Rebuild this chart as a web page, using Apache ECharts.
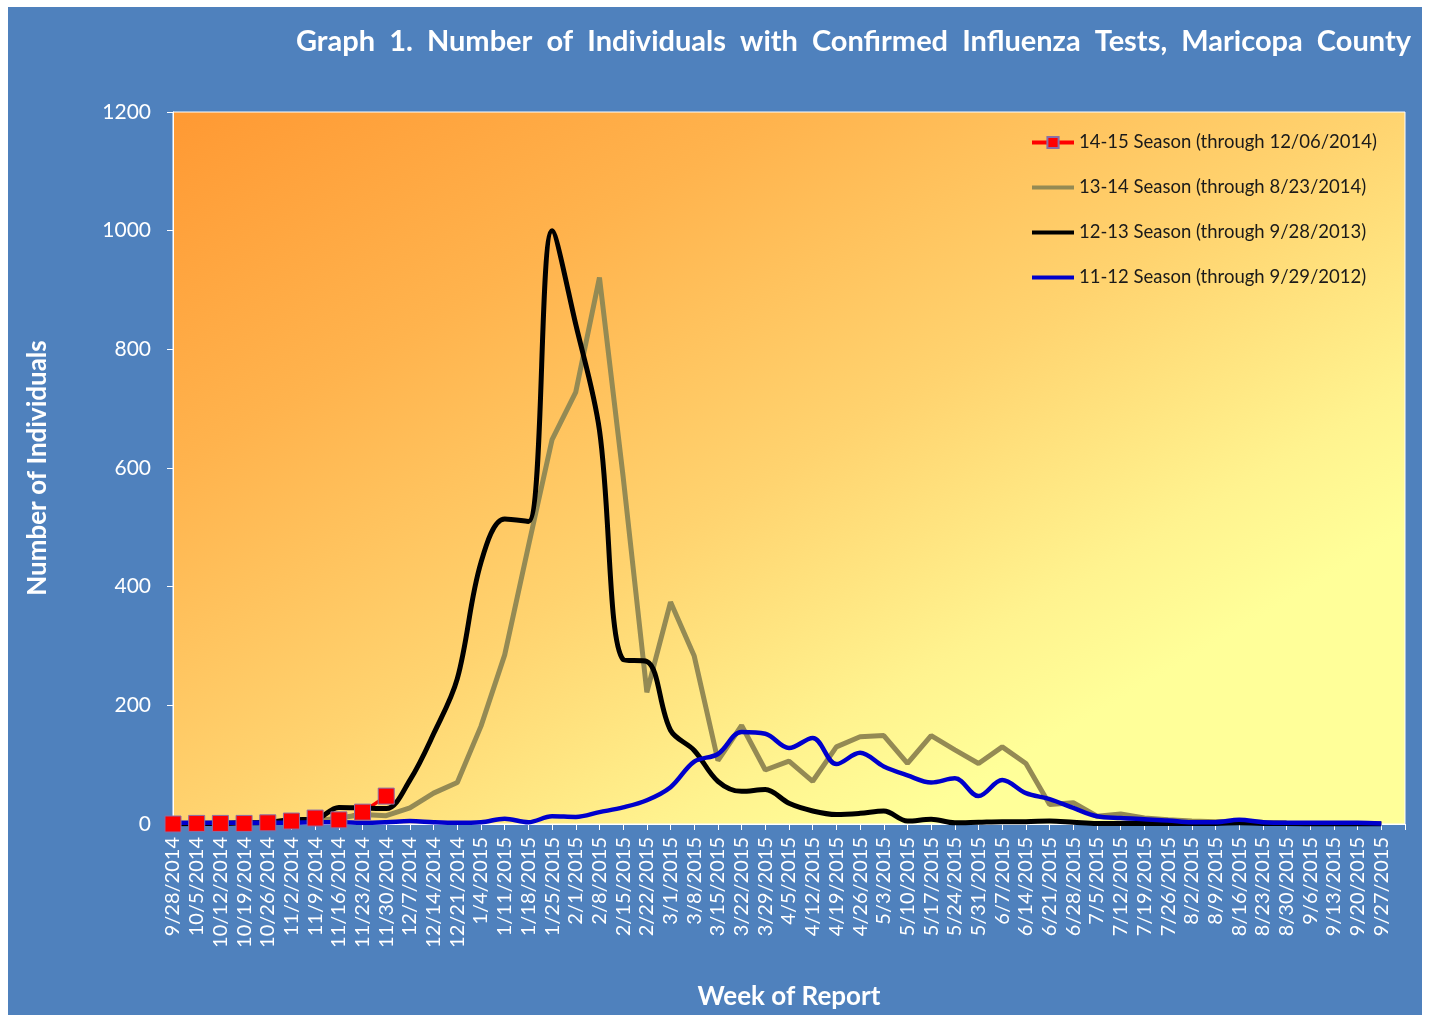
<!DOCTYPE html>
<html>
<head>
<meta charset="utf-8">
<title>Graph 1</title>
<script src="https://cdn.jsdelivr.net/npm/echarts@6/dist/echarts.min.js"></script>
<style>
  body { margin: 0; background: #fff; }
  #wrap { position: relative; width: 1429px; height: 1017px; background: #fff; }
  #chart { position: absolute; left: 8px; top: 7px; width: 1414px; height: 1008px; }
</style>
</head>
<body>
<div id="wrap"><div id="chart"></div></div>
<script>
// week labels (last slot is empty in the original)
const weeks = ['9/28/2014', '10/5/2014', '10/12/2014', '10/19/2014', '10/26/2014', '11/2/2014', '11/9/2014',
  '11/16/2014', '11/23/2014', '11/30/2014', '12/7/2014', '12/14/2014', '12/21/2014', '1/4/2015', '1/11/2015',
  '1/18/2015', '1/25/2015', '2/1/2015', '2/8/2015', '2/15/2015', '2/22/2015', '3/1/2015', '3/8/2015', '3/15/2015',
  '3/22/2015', '3/29/2015', '4/5/2015', '4/12/2015', '4/19/2015', '4/26/2015', '5/3/2015', '5/10/2015', '5/17/2015',
  '5/24/2015', '5/31/2015', '6/7/2015', '6/14/2015', '6/21/2015', '6/28/2015', '7/5/2015', '7/12/2015', '7/19/2015',
  '7/26/2015', '8/2/2015', '8/9/2015', '8/16/2015', '8/23/2015', '8/30/2015', '9/6/2015', '9/13/2015', '9/20/2015',
  '9/27/2015', '']

const yTicks = [0, 200, 400, 600, 800, 1000, 1200]

// 14-15 season
const season1415 = [0, 1, 1, 1, 2, 5, 10, 7, 20, 47]
// 13-14 season
const season1314 = [1, 1, 2, 2, 3, 4, 5, 10, 16, 14, 27, 52, 70, 165, 285, 468, 648, 728, 921, 585,
  222, 374, 283, 107, 166, 91, 106, 72, 130, 147, 149, 102, 149, 125, 102, 130, 102, 33, 36, 13,
  17, 10, 7, 5, 4, 5, 3, 2]
// 12-13 season
const season1213 = [0, 1, 1, 2, 3, 7, 8, 28, 27, 26, 74, 152, 245, 441, 514, 510, 1000, 842, 664, 277,
  274, 158, 124, 72, 55, 58, 35, 22, 16, 18, 22, 5, 8, 2, 3, 4, 4, 5, 3, 1,
  1, 1, 1, 1, 1, 2, 1, 1, 0, 0, 0, 0]
// 11-12 season
const season1112 = [2, 2, 2, 2, 2, 2, 3, 3, 2, 3, 5, 3, 2, 3, 9, 3, 13, 12, 20, 28,
  40, 62, 105, 118, 155, 152, 128, 145, 101, 120, 97, 82, 70, 77, 47, 74, 52, 42, 27, 13,
  10, 8, 6, 3, 3, 7, 3, 2, 2, 2, 2, 1]

const names = [
  '14-15 Season (through 12/06/2014)',
  '13-14 Season (through 8/23/2014)',
  '12-13 Season (through 9/28/2013)',
  '11-12 Season (through 9/29/2012)'
]

const font = 'Lato, "Open Sans", sans-serif'

let myChart = echarts.init(document.getElementById('chart'))

let option = {
  backgroundColor: '#4f81bd',
  animation: false,
  textStyle: {fontFamily: font},
  title: {
    text: 'Graph  1.  Number  of  Individuals  with  Confirmed  Influenza  Tests,  Maricopa  County',
    right: 6,
    top: 15,
    textStyle: {color: '#fff', fontSize: 29, fontWeight: 'bold', fontFamily: font}
  },
  legend: {
    orient: 'vertical',
    left: 1017,
    top: 121,
    itemWidth: 42,
    itemHeight: 14,
    itemGap: 26,
    data: [
      {name: names[0], lineStyle: {width: 4}},
      {name: names[1], itemStyle: {opacity: 0}, lineStyle: {width: 4}},
      {name: names[2], itemStyle: {opacity: 0}, lineStyle: {width: 4}},
      {name: names[3], itemStyle: {opacity: 0}, lineStyle: {width: 4}}
    ],
    textStyle: {color: '#1a1a1a', fontSize: 18.5, fontFamily: font}
  },
  grid: {
    left: 165,
    top: 105,
    right: 17,
    bottom: 184,
    show: true,
    borderColor: '#fff',
    borderWidth: 1,
    // diagonal fill, isolines run parallel to the anti-diagonal like the original
    backgroundColor: {
      type: 'linear', x: 0, y: 0, x2: 0.508, y2: 1.492,
      colorStops: [
        {offset: 0, color: '#ff9933'},
        {offset: 0.25, color: '#ffb34d'},
        {offset: 0.5, color: '#ffd36f'},
        {offset: 0.7, color: '#fff38f'},
        {offset: 0.8, color: '#ffff99'},
        {offset: 1, color: '#ffff99'}
      ]
    }
  },
  xAxis: {
    type: 'category',
    data: weeks,
    boundaryGap: false,
    name: 'Week of Report',
    nameLocation: 'middle',
    nameGap: 160,
    nameTextStyle: {color: '#fff', fontSize: 26, fontWeight: 'bold', fontFamily: font},
    axisLine: {lineStyle: {color: '#fff', width: 1}},
    axisTick: {show: true, interval: 0, length: 6, lineStyle: {color: '#fff'}},
    axisLabel: {interval: 0, rotate: 90, color: '#fff', fontSize: 20, margin: 13, fontFamily: font},
    splitLine: {show: false}
  },
  yAxis: {
    type: 'value',
    min: yTicks[0],
    max: yTicks[yTicks.length - 1],
    interval: 200,
    name: 'Number of Individuals',
    nameLocation: 'middle',
    nameGap: 122,
    nameTextStyle: {color: '#fff', fontSize: 26, fontWeight: 'bold', fontFamily: font},
    axisLine: {show: true, lineStyle: {color: '#fff', width: 1}},
    axisTick: {show: true, length: 6, lineStyle: {color: '#fff'}},
    axisLabel: {
      color: '#fff', fontSize: 21, margin: 22, fontFamily: font,
      formatter: v => String(v)
    },
    splitLine: {show: false}
  },
  series: [
    {
      name: names[0],
      type: 'line',
      data: season1415,
      symbol: 'rect',
      symbolSize: 16,
      lineStyle: {color: '#ff0000', width: 3.5},
      itemStyle: {color: '#ff0000', borderColor: '#8a6fa6', borderWidth: 1}
    },
    {
      name: names[1],
      type: 'line',
      data: season1314,
      symbol: 'none',
      lineStyle: {color: '#948a54', width: 5},
      itemStyle: {color: '#948a54'}
    },
    {
      name: names[2],
      type: 'line',
      data: season1213,
      symbol: 'none',
      smooth: 0.35,
      lineStyle: {color: '#000', width: 5},
      itemStyle: {color: '#000'}
    },
    {
      name: names[3],
      type: 'line',
      data: season1112,
      symbol: 'none',
      smooth: 0.35,
      lineStyle: {color: '#0000cc', width: 4.5},
      itemStyle: {color: '#0000cc'}
    }
  ]
}

myChart.setOption(option)
</script>
</body>
</html>
